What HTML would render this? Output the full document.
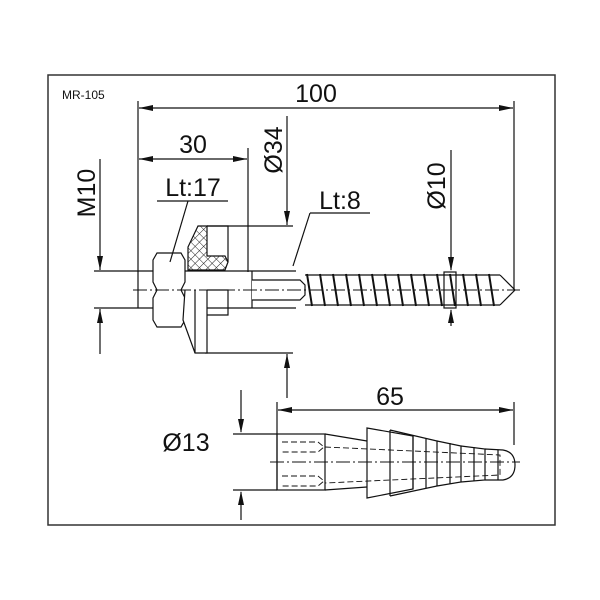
<!DOCTYPE html><html><head><meta charset="utf-8"><style>body{margin:0;background:#fff}svg{display:block}text{font-family:"Liberation Sans",sans-serif;fill:#111}</style></head><body>
<svg width="600" height="600" viewBox="0 0 600 600" xmlns="http://www.w3.org/2000/svg">
<defs>
<pattern id="h" width="6" height="6" patternUnits="userSpaceOnUse" patternTransform="rotate(45)"><rect width="6" height="6" fill="#fff"/><path d="M0,0V6M0,0H6" stroke="#222" stroke-width="1"/></pattern>
</defs>
<rect x="48" y="75" width="507" height="450" fill="none" stroke="#333" stroke-width="1.5"/>
<text x="62" y="99" font-size="12">MR-105</text>
<g stroke="#111" stroke-width="1.2" fill="none">
<line x1="138" y1="101" x2="138" y2="272"/><line x1="514" y1="101" x2="514" y2="290"/>
<line x1="139" y1="108" x2="513" y2="108"/>
<line x1="248" y1="148" x2="248" y2="272"/>
<line x1="139" y1="159" x2="247" y2="159"/>
<line x1="287" y1="116" x2="287" y2="225"/>
<line x1="287" y1="398" x2="287" y2="354"/>
<line x1="207" y1="226" x2="293" y2="226"/><line x1="205" y1="353" x2="293" y2="353"/>
<line x1="100" y1="159" x2="100" y2="270"/>
<line x1="100" y1="354" x2="100" y2="309"/>
<line x1="94" y1="271" x2="153" y2="271"/><line x1="94" y1="308" x2="153" y2="308"/>
<line x1="252" y1="271" x2="296" y2="271"/><line x1="252" y1="308" x2="296" y2="308"/>
<line x1="138" y1="271" x2="138" y2="308"/>
<line x1="183" y1="271" x2="252" y2="271"/><line x1="207" y1="308" x2="252" y2="308"/>
<line x1="252" y1="271" x2="252" y2="308"/>
<path d="M157,253H181L185,260V282L181,290L185,298V320L181,327H157L153,320V298L157,290L153,282V260Z" fill="#fff"/>
<path d="M198,226H207V256H225L228,262L225,270H188V247Z" fill="url(#h)"/>
<path d="M207,226H228V262" />
<path d="M185,290L183,320L195,353H207V290" fill="#fff"/>
<line x1="195" y1="290" x2="195" y2="353"/>
<path d="M207,290H228V315H207"/>
<path d="M252,280H300L305,285V295L300,300H252" fill="#fff"/>
<line x1="305" y1="275" x2="500" y2="275"/><line x1="305" y1="305" x2="500" y2="305"/>
<path d="M500,275L515,290L500,305"/>
<g stroke-width="2">
<path d="M307,274l5,32M320,274l5,32M333,274l5,32M346,274l5,32M359,274l5,32M372,274l5,32M385,274l5,32M398,274l5,32M411,274l5,32M424,274l5,32M437,274l5,32M450,274l5,32M463,274l5,32M476,274l5,32M489,274l5,32"/>
</g>
<rect x="444" y="272" width="12" height="36"/>
<line x1="451" y1="150" x2="451" y2="270"/>
<line x1="451" y1="326" x2="451" y2="310"/>
<line x1="157" y1="201" x2="228" y2="201"/><line x1="188" y1="201" x2="170" y2="262"/>
<line x1="310" y1="213" x2="370" y2="213"/><line x1="310" y1="213" x2="293" y2="266"/>
<line x1="133" y1="290" x2="520" y2="290" stroke-dasharray="14,3,2,3" stroke-width="0.9"/>
<line x1="277" y1="402" x2="277" y2="490"/><line x1="514" y1="402" x2="514" y2="445"/>
<line x1="278" y1="410" x2="513" y2="410"/>
<line x1="241" y1="390" x2="241" y2="432"/>
<line x1="241" y1="520" x2="241" y2="492"/>
<line x1="233" y1="434" x2="277" y2="434"/><line x1="233" y1="490" x2="277" y2="490"/>
<rect x="277" y="434" width="48" height="56"/>
<path d="M325,434L367,441M325,490L367,487"/>
<path d="M367,428L413,436V489L367,498Z"/>
<path d="M390,430V496M413,436V489M390,430L437,441V486L390,496M437,441V486M437,441L461,446V482L437,486M461,446V482M461,446L485,449V480L461,482M485,449L503,450Q515,452 515,465Q515,478 503,480L485,480"/>
<path d="M426,438V488M450,443V484M474,447V481M498,450V480"/>
<g stroke-dasharray="6,3" stroke-width="0.9">
<path d="M282,442H318L324,447L318,452H282M282,476H318L324,481L318,486H282"/>
<path d="M325,447L500,455V475L325,483"/>
</g>
<line x1="270" y1="462" x2="520" y2="462" stroke-dasharray="14,3,2,3" stroke-width="0.9"/>
</g>
<g fill="#111">
<polygon points="139,108 153,105 153,111"/><polygon points="513,108 499,105 499,111"/>
<polygon points="139,159 153,156 153,162"/><polygon points="247,159 233,156 233,162"/>
<polygon points="287,225 284,211 290,211"/><polygon points="287,354 284,368 290,368"/>
<polygon points="100,270 97,256 103,256"/><polygon points="100,309 97,323 103,323"/>
<polygon points="451,271 448,257 454,257"/><polygon points="451,309 448,323 454,323"/>
<polygon points="278,410 292,407 292,413"/><polygon points="513,410 499,407 499,413"/>
<polygon points="241,433 238,419 244,419"/><polygon points="241,491 238,505 244,505"/>
</g>
<g font-size="25">
<text x="316" y="102" text-anchor="middle">100</text>
<text x="193" y="153" text-anchor="middle">30</text>
<text x="193" y="196" text-anchor="middle">Lt:17</text>
<text x="340" y="209" text-anchor="middle">Lt:8</text>
<text x="390" y="405" text-anchor="middle">65</text>
<text x="186" y="451" text-anchor="middle">Ø13</text>
<text transform="translate(282,150) rotate(-90)" text-anchor="middle">Ø34</text>
<text transform="translate(445,186) rotate(-90)" text-anchor="middle">Ø10</text>
<text transform="translate(95,193) rotate(-90)" text-anchor="middle">M10</text>
</g>
</svg></body></html>
